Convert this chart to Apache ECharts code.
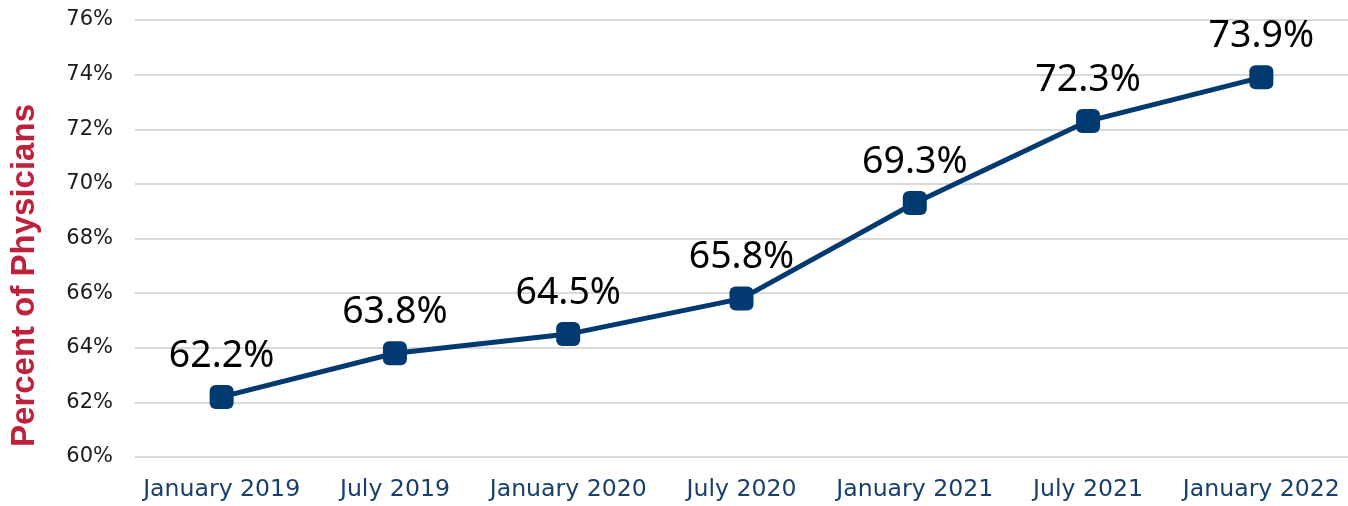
<!DOCTYPE html>
<html>
<head>
<meta charset="utf-8">
<script src="https://cdn.jsdelivr.net/npm/echarts@6/dist/echarts.min.js"></script>
<style>
  html, body { margin: 0; padding: 0; background: #ffffff; }
  #chart { width: 1348px; height: 506px; }
</style>
</head>
<body>
<div id="chart"></div>
<script>
// periods and share of physicians (%)
const periods = ['January 2019', 'July 2019', 'January 2020', 'July 2020', 'January 2021', 'July 2021', 'January 2022']
const percentValues = [62.2, 63.8, 64.5, 65.8, 69.3, 72.3, 73.9]
const yTicks = { min: 60, max: 76, step: 2 }

const navy = '#003a70'
const chart = echarts.init(document.getElementById('chart'))
const option = {
  backgroundColor: '#ffffff',
  animation: false,
  grid: {
    left: 135,
    right: 0,
    top: 20,
    bottom: 49
  },
  xAxis: {
    type: 'category',
    data: periods,
    boundaryGap: true,
    axisLine: { show: false },
    axisTick: { show: false },
    axisLabel: {
      margin: 21,
      interval: 0,
      color: '#17406d',
      fontFamily: 'DejaVu Sans',
      fontSize: 23.6
    }
  },
  yAxis: {
    type: 'value',
    min: yTicks.min,
    max: yTicks.max,
    interval: yTicks.step,
    name: 'Percent of Physicians',
    nameLocation: 'middle',
    nameGap: 94,
    nameTextStyle: {
      color: '#c0213a',
      fontFamily: 'Liberation Sans',
      fontWeight: 'bold',
      fontSize: 33,
      padding: [0, 74, 0, 0]
    },
    axisLine: { show: false },
    axisTick: { show: false },
    axisLabel: {
      margin: 22,
      color: '#1a1a1a',
      fontFamily: 'DejaVu Sans',
      fontSize: 21,
      formatter: v => v + '%'
    },
    splitLine: {
      lineStyle: { color: '#d9d9d9', width: 2 }
    }
  },
  series: [{
    type: 'line',
    data: percentValues,
    symbol: 'roundRect',
    symbolSize: 24,
    lineStyle: { color: navy, width: 5 },
    itemStyle: { color: navy },
    label: {
      show: true,
      position: 'top',
      distance: 10,
      color: '#000000',
      fontFamily: 'Noto Sans',
      fontSize: 37.5,
      formatter: p => p.value.toFixed(1) + '%'
    }
  }]
}
chart.setOption(option)
</script>
</body>
</html>
